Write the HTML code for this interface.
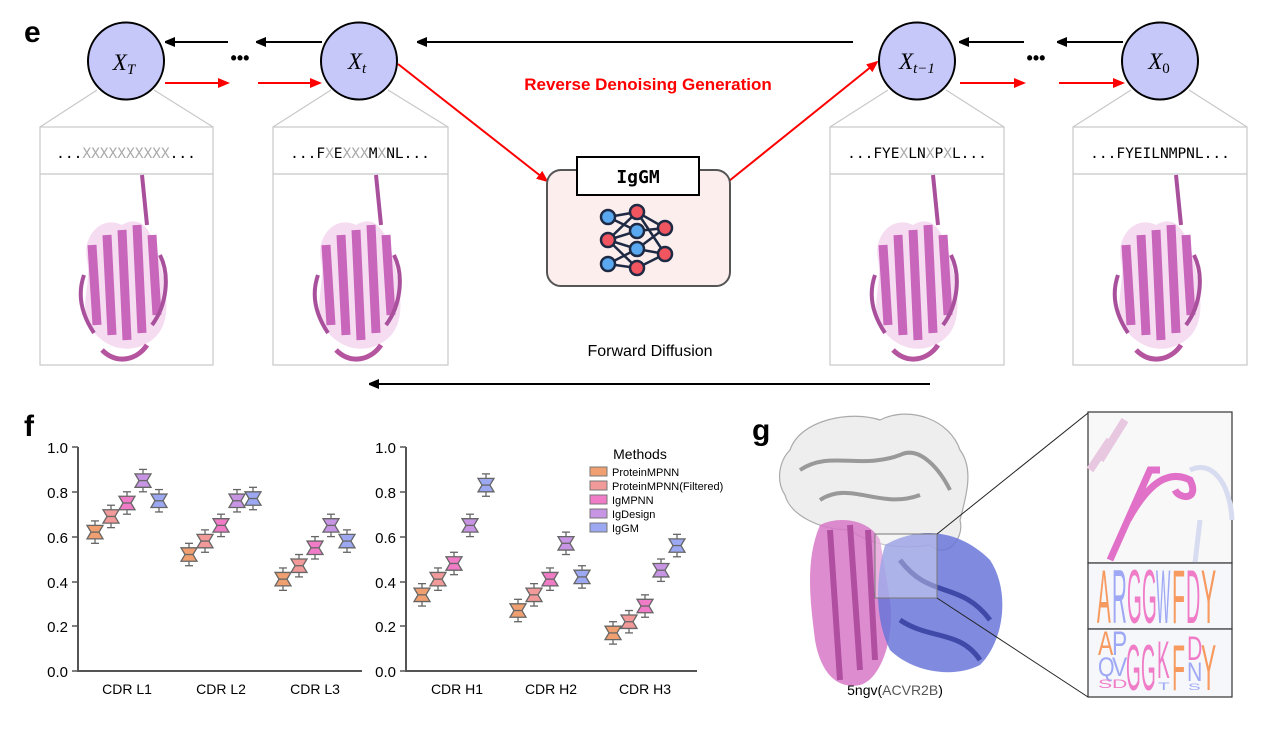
<!DOCTYPE html>
<html><head><meta charset="utf-8"><style>
html,body{margin:0;padding:0;background:#fff;}
svg{display:block;font-family:"Liberation Sans",sans-serif;}
</style></head><body>
<svg width="1280" height="744" viewBox="0 0 1280 744" xmlns="http://www.w3.org/2000/svg">
<defs>
<marker id="ab" markerWidth="10" markerHeight="10" refX="9" refY="5" orient="auto" markerUnits="userSpaceOnUse"><path d="M0,0 L12,5 L0,10 z" fill="#000"/></marker>
<marker id="ar" markerWidth="12" markerHeight="10" refX="10" refY="5" orient="auto" markerUnits="userSpaceOnUse"><path d="M0,0 L12,5 L0,10 z" fill="#f00"/></marker>
<g id="prot">
 <path d="M0,10 C-20,0 -40,20 -35,45 C-30,70 -45,95 -30,115 C-15,135 10,140 30,125 C50,110 45,80 40,55 C35,30 25,-5 0,10 Z" fill="#e39bd8" opacity="0.35"/>
 <path d="M-30,30 L-25,110 M-15,20 L-10,120 M0,15 L5,125 M15,10 L20,118 M30,20 L35,100" stroke="#c866bb" stroke-width="9" fill="none"/>
 <path d="M-38,60 C-45,80 -40,100 -28,118 M38,40 C48,60 45,90 30,110 M20,-40 L25,10" stroke="#a9509c" stroke-width="4" fill="none"/>
 <path d="M-20,135 C-5,150 15,145 25,130" stroke="#b5559f" stroke-width="5" fill="none"/>
</g>
</defs>

<text x="24" y="42" font-size="30" font-weight="bold">e</text>
<g stroke="#c8c8c8" stroke-width="1.2" fill="none">
<line x1="97" y1="90" x2="40" y2="127"/><line x1="154" y1="90" x2="213" y2="127"/>
<line x1="331" y1="90" x2="273" y2="127"/><line x1="388" y1="90" x2="448" y2="127"/>
<line x1="888" y1="90" x2="830" y2="127"/><line x1="946" y1="90" x2="1004" y2="127"/>
<line x1="1131" y1="90" x2="1073" y2="127"/><line x1="1189" y1="90" x2="1247" y2="127"/>
</g>
<g fill="#fff" stroke="#c8c8c8" stroke-width="1.2">
<rect x="40" y="127" width="173" height="238"/><line x1="40" y1="174" x2="213" y2="174"/>
<rect x="273" y="127" width="175" height="238"/><line x1="273" y1="174" x2="448" y2="174"/>
<rect x="830" y="127" width="174" height="238"/><line x1="830" y1="174" x2="1004" y2="174"/>
<rect x="1073" y="127" width="174" height="238"/><line x1="1073" y1="174" x2="1247" y2="174"/>
</g>
<g style="font-family:'DejaVu Sans Mono','Liberation Mono',monospace" font-size="14.5" text-anchor="middle">
<text x="126" y="158">...<tspan fill="#aaa">XXXXXXXXXX</tspan>...</text>
<text x="360" y="158">...F<tspan fill="#aaa">X</tspan>E<tspan fill="#aaa">XXX</tspan>M<tspan fill="#aaa">X</tspan>NL...</text>
<text x="917" y="158">...FYE<tspan fill="#aaa">X</tspan>LN<tspan fill="#aaa">X</tspan>P<tspan fill="#aaa">X</tspan>L...</text>
<text x="1160" y="158">...FYEILNMPNL...</text>
</g>
<use href="#prot" transform="translate(122,215)"/>
<use href="#prot" transform="translate(356,215)"/>
<use href="#prot" transform="translate(913,215)"/>
<use href="#prot" transform="translate(1156,215)"/>

<g stroke="#000" stroke-width="2" marker-end="url(#ab)">
<line x1="228" y1="42" x2="166" y2="42"/><line x1="322" y1="42" x2="257" y2="42"/>
<line x1="853" y1="42" x2="418" y2="42"/>
<line x1="1024" y1="42" x2="960" y2="42"/><line x1="1123" y1="42" x2="1058" y2="42"/>
<line x1="930" y1="384" x2="370" y2="384"/>
</g>
<g stroke="#f00" stroke-width="2" marker-end="url(#ar)">
<line x1="165" y1="83" x2="228" y2="83"/><line x1="258" y1="83" x2="320" y2="83"/>
<line x1="960" y1="83" x2="1024" y2="83"/><line x1="1059" y1="83" x2="1123" y2="83"/>
<line x1="398" y1="64" x2="547" y2="181"/>
<line x1="729" y1="181" x2="877" y2="62"/>
</g>
<text x="240" y="64" font-size="18" font-weight="bold" text-anchor="middle">•••</text>
<text x="1036" y="64" font-size="18" font-weight="bold" text-anchor="middle">•••</text>
<g fill="#c6c8fa" stroke="#000" stroke-width="2">
<ellipse cx="126" cy="61" rx="38" ry="38.5"/><ellipse cx="359" cy="61" rx="38" ry="38.5"/>
<ellipse cx="917" cy="61" rx="38" ry="38.5"/><ellipse cx="1160" cy="61" rx="38" ry="38.5"/>
</g>
<g style="font-family:'Liberation Serif',serif;font-style:italic" font-size="23" text-anchor="middle">
<text x="124" y="70">X<tspan font-size="15" dy="4">T</tspan></text>
<text x="357" y="69">X<tspan font-size="15" dy="4">t</tspan></text>
<text x="917" y="69">X<tspan font-size="15" dy="4">t−1</tspan></text>
<text x="1159" y="69">X<tspan font-size="15" dy="4" style="font-style:normal">0</tspan></text>
</g>
<text x="648" y="90" font-size="17" font-weight="bold" fill="#f00" text-anchor="middle">Reverse Denoising Generation</text>
<text x="650" y="356" font-size="16" text-anchor="middle">Forward Diffusion</text>

<rect x="547" y="170" width="183" height="116" rx="14" fill="#fdeeee" stroke="#555" stroke-width="2"/>
<rect x="577" y="157" width="122" height="38" fill="#fff" stroke="#000" stroke-width="2"/>
<text x="638" y="183" font-size="18" font-weight="bold" text-anchor="middle" style="font-family:'DejaVu Sans Mono',monospace">IgGM</text>
<g stroke="#1e2a44" stroke-width="2.5" fill="none">
<path d="M608,217 L637,212 L665,228 M608,217 L637,231 M608,240 L637,212 M608,240 L637,231 M608,240 L637,249 M608,240 L637,268 M608,264 L637,249 M608,264 L637,268 M637,212 L665,254 M637,231 L665,228 M637,249 L665,228 M637,249 L665,254 M637,268 L665,254"/>
</g>
<g stroke="#1e2a44" stroke-width="2.5">
<circle cx="608" cy="217" r="7" fill="#5aa8ef"/><circle cx="608" cy="240" r="7" fill="#f05560"/><circle cx="608" cy="264" r="7" fill="#5aa8ef"/>
<circle cx="637" cy="212" r="7" fill="#f05560"/><circle cx="637" cy="231" r="7" fill="#5aa8ef"/><circle cx="637" cy="249" r="7" fill="#5aa8ef"/><circle cx="637" cy="268" r="7" fill="#f05560"/>
<circle cx="665" cy="228" r="7" fill="#f05560"/><circle cx="665" cy="254" r="7" fill="#f05560"/>
</g>

<text x="24" y="436" font-size="30" font-weight="bold">f</text>
<g stroke="#555" stroke-width="2" fill="none">
<path d="M78,447 V671 H362"/><path d="M406,447 V671 H697"/>
</g>
<g stroke="#555" stroke-width="1.5">
<line x1="72" y1="447" x2="78" y2="447"/><line x1="72" y1="492" x2="78" y2="492"/><line x1="72" y1="537" x2="78" y2="537"/><line x1="72" y1="582" x2="78" y2="582"/><line x1="72" y1="626" x2="78" y2="626"/><line x1="72" y1="671" x2="78" y2="671"/>
<line x1="400" y1="447" x2="406" y2="447"/><line x1="400" y1="492" x2="406" y2="492"/><line x1="400" y1="537" x2="406" y2="537"/><line x1="400" y1="582" x2="406" y2="582"/><line x1="400" y1="626" x2="406" y2="626"/><line x1="400" y1="671" x2="406" y2="671"/>
</g>
<g font-size="15" text-anchor="end">
<text x="68" y="453">1.0</text><text x="68" y="498">0.8</text><text x="68" y="543">0.6</text><text x="68" y="588">0.4</text><text x="68" y="632">0.2</text><text x="68" y="677">0.0</text>
<text x="396" y="453">1.0</text><text x="396" y="498">0.8</text><text x="396" y="543">0.6</text><text x="396" y="588">0.4</text><text x="396" y="632">0.2</text><text x="396" y="677">0.0</text>
</g>
<g font-size="14" text-anchor="middle">
<text x="127" y="694">CDR L1</text><text x="221" y="694">CDR L2</text><text x="315" y="694">CDR L3</text>
<text x="457" y="694">CDR H1</text><text x="551" y="694">CDR H2</text><text x="645" y="694">CDR H3</text>
</g>
<g id="boxes" stroke="#666" stroke-width="1.3"></g>
<text x="640" y="459" font-size="14" text-anchor="middle">Methods</text>
<g font-size="11">
<rect x="590" y="467" width="17" height="9" fill="#f0a070" stroke="#777"/><text x="612" y="476">ProteinMPNN</text>
<rect x="590" y="481" width="17" height="9" fill="#f29a9a" stroke="#777"/><text x="612" y="490">ProteinMPNN(Filtered)</text>
<rect x="590" y="495" width="17" height="9" fill="#f07cc8" stroke="#777"/><text x="612" y="504">IgMPNN</text>
<rect x="590" y="509" width="17" height="9" fill="#c894e4" stroke="#777"/><text x="612" y="518">IgDesign</text>
<rect x="590" y="523" width="17" height="9" fill="#9ca8f2" stroke="#777"/><text x="612" y="532">IgGM</text>
</g>

<text x="752" y="440" font-size="30" font-weight="bold">g</text>
<path d="M790,450 C800,420 850,410 880,420 C910,405 950,420 960,450 C975,470 965,500 960,520 C965,540 945,560 930,545 C900,550 870,545 850,530 C820,530 790,515 785,495 C775,480 780,460 790,450 Z" fill="#eeeeee" stroke="#aaa" stroke-width="1.2"/>
<path d="M800,470 C830,450 860,470 900,455 C920,445 940,470 950,490 M820,500 C850,480 880,510 920,495" stroke="#999" stroke-width="4" fill="none"/>
<path d="M820,525 C840,515 870,520 880,540 L890,600 C895,640 880,680 860,685 C835,690 820,670 815,640 C810,600 805,560 820,525 Z" fill="#d878c8" opacity="0.85"/>
<path d="M830,530 L840,680 M850,525 L860,670 M868,530 L875,660" stroke="#b04fa0" stroke-width="6" fill="none"/>
<path d="M885,545 C920,525 960,530 990,560 C1010,590 1005,640 980,665 C950,680 910,670 890,650 C875,620 875,580 885,545 Z" fill="#6a75d8" opacity="0.85"/>
<path d="M900,560 C930,600 960,580 990,620 M900,620 C930,640 960,630 980,660" stroke="#3f49a8" stroke-width="5" fill="none"/>
<rect x="875" y="534" width="62" height="64" fill="#fff" fill-opacity="0.35" stroke="#777" stroke-width="1"/>
<line x1="937" y1="534" x2="1088" y2="413" stroke="#222" stroke-width="1"/>
<line x1="937" y1="598" x2="1088" y2="697" stroke="#222" stroke-width="1"/>
<text x="895" y="695" font-size="14" text-anchor="middle">5ngv(<tspan fill="#555">ACVR2B</tspan>)</text>
<rect x="1088" y="412" width="144" height="151" fill="#f8f8f8" stroke="#333" stroke-width="1.2"/>
<path d="M1100,460 L1125,420 M1090,470 L1110,440" stroke="#e8c8e0" stroke-width="8"/>
<path d="M1110,560 L1150,470 L1160,470 M1128,520 C1150,480 1170,470 1190,480 C1200,500 1180,500 1175,490" stroke="#e070c8" stroke-width="7" fill="none"/>
<path d="M1190,470 C1210,460 1230,480 1232,520 M1195,563 L1200,520" stroke="#d8dcf0" stroke-width="5" fill="none"/>
<rect x="1088" y="563" width="144" height="66" fill="#f5f7fb" stroke="#333" stroke-width="1.2"/>
<rect x="1088" y="629" width="144" height="68" fill="#f5f7fb" stroke="#333" stroke-width="1.2"/>
<g font-size="76">
<text transform="translate(1097,623) scale(0.27,1)" fill="#f79a60">A</text>
<text transform="translate(1112,623) scale(0.27,1)" fill="#9ea8f4">R</text>
<text transform="translate(1127,623) scale(0.25,1)" fill="#f07cc8">G</text>
<text transform="translate(1142,623) scale(0.25,1)" fill="#f07cc8">G</text>
<text transform="translate(1156,623) scale(0.2,1)" fill="#9ea8f4">W</text>
<text transform="translate(1172,623) scale(0.28,1)" fill="#f79a60">F</text>
<text transform="translate(1186,623) scale(0.26,1)" fill="#f07cc8">D</text>
<text transform="translate(1201,623) scale(0.3,1)" fill="#f79a60">Y</text>
<text transform="translate(1098,655) scale(0.3,0.45)" fill="#f79a60">A</text>
<text transform="translate(1098,676) scale(0.28,0.35)" fill="#9ea8f4">Q</text>
<text transform="translate(1098,688) scale(0.28,0.16)" fill="#f07cc8">S</text>
<text transform="translate(1112,655) scale(0.3,0.45)" fill="#9ea8f4">P</text>
<text transform="translate(1112,676) scale(0.3,0.35)" fill="#9ea8f4">V</text>
<text transform="translate(1112,688) scale(0.28,0.16)" fill="#f07cc8">D</text>
<text transform="translate(1126,690) scale(0.25,0.85)" fill="#f07cc8">G</text>
<text transform="translate(1141,690) scale(0.25,0.85)" fill="#f07cc8">G</text>
<text transform="translate(1157,678) scale(0.25,0.7)" fill="#f07cc8">K</text>
<text transform="translate(1158,690) scale(0.25,0.15)" fill="#9ea8f4">T</text>
<text transform="translate(1172,690) scale(0.28,0.85)" fill="#f79a60">F</text>
<text transform="translate(1187,660) scale(0.28,0.45)" fill="#f07cc8">D</text>
<text transform="translate(1187,681) scale(0.28,0.35)" fill="#9ea8f4">N</text>
<text transform="translate(1188,690) scale(0.25,0.12)" fill="#9ea8f4">S</text>
<text transform="translate(1201,690) scale(0.3,0.85)" fill="#f79a60">Y</text>
</g>
</svg>
<script>
(function(){
var cols=["#f0a070","#f29a9a","#f07cc8","#c894e4","#9ca8f2"];
var data=[[127,[.62,.69,.75,.85,.76]],[221,[.52,.58,.65,.76,.77]],[315,[.41,.47,.55,.65,.58]],
[454,[.34,.41,.48,.65,.83]],[550,[.27,.34,.41,.57,.42]],[645,[.17,.22,.29,.45,.56]]];
var g=document.getElementById("boxes"),s="";
function y(v){return 671-224*v;}
data.forEach(function(d){d[1].forEach(function(v,i){
var x=d[0]+(i-2)*16,m=y(v),t=y(v+0.03),b=y(v-0.03),wt=y(v+0.05),wb=y(v-0.05);
s+='<line x1="'+x+'" y1="'+wt+'" x2="'+x+'" y2="'+wb+'"/>';
s+='<line x1="'+(x-4)+'" y1="'+wt+'" x2="'+(x+4)+'" y2="'+wt+'"/><line x1="'+(x-4)+'" y1="'+wb+'" x2="'+(x+4)+'" y2="'+wb+'"/>';
s+='<path d="M'+(x-8)+','+t+' H'+(x+8)+' L'+(x+4)+','+m+' L'+(x+8)+','+b+' H'+(x-8)+' L'+(x-4)+','+m+' Z" fill="'+cols[i]+'"/>';
s+='<line x1="'+(x-4)+'" y1="'+m+'" x2="'+(x+4)+'" y2="'+m+'"/>';
});});
g.innerHTML=s;
})();
</script>
</body></html>
